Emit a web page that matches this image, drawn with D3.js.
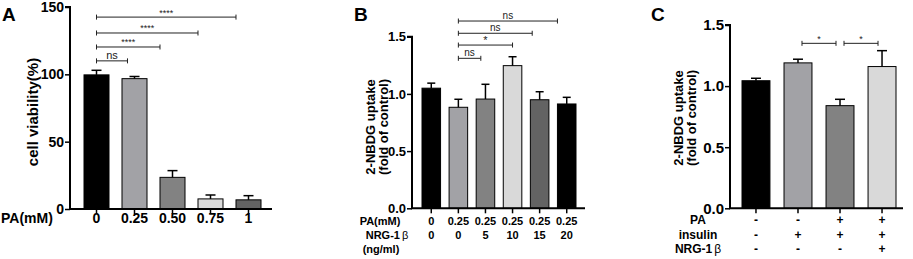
<!DOCTYPE html>
<html>
<head>
<meta charset="utf-8">
<script src="https://cdn.jsdelivr.net/npm/d3@7/dist/d3.min.js"></script>
<style>
  html, body { margin: 0; padding: 0; background: #fff; }
  svg { display: block; }
  text { font-family: "Liberation Sans", Arial, sans-serif; }
</style>
</head>
<body>
<svg id="chart" width="913" height="259"></svg>
<script>
// ---------- Panel A data ----------
const aCategories = ["0", "0.25", "0.50", "0.75", "1"];
const aMeans = [99.6, 96.8, 23.5, 7.5, 6.8];
const aErrors = [3.4, 1.6, 5.0, 2.9, 3.1];
const aColors = ["#000000", "#a2a2a6", "#828282", "#d9d9d9", "#636363"];
const aYTicks = [0, 50, 100, 150];
const aSig = [
  { from: "0", to: "0.25", y: 110, label: "ns" },
  { from: "0", to: "0.50", y: 120.3, label: "****" },
  { from: "0", to: "0.75", y: 130.7, label: "****" },
  { from: "0", to: "1", y: 142.5, label: "****" }
];

// ---------- Panel B data ----------
const bCategories = ["b1", "b2", "b3", "b4", "b5", "b6"];
const bPA = ["0", "0.25", "0.25", "0.25", "0.25", "0.25"];
const bNRG = ["0", "0", "5", "10", "15", "20"];
const bMeans = [1.05, 0.883, 0.955, 1.247, 0.949, 0.912];
const bErrors = [0.044, 0.07, 0.129, 0.078, 0.07, 0.058];
const bColors = ["#000000", "#a2a2a6", "#828282", "#d9d9d9", "#636363", "#000000"];
const bYTicks = [0, 0.5, 1.0, 1.5];
const bSig = [
  { from: "b2", to: "b3", y: 1.311, label: "ns" },
  { from: "b2", to: "b4", y: 1.427, label: "*" },
  { from: "b2", to: "b5", y: 1.53, label: "ns" },
  { from: "b2", to: "b6", y: 1.637, label: "ns" }
];

// ---------- Panel C data ----------
const cCategories = ["c1", "c2", "c3", "c4"];
const cPA = ["-", "-", "+", "+"];
const cInsulin = ["-", "+", "+", "+"];
const cNRG = ["-", "-", "-", "+"];
const cMeans = [1.044, 1.19, 0.84, 1.16];
const cErrors = [0.02, 0.03, 0.052, 0.13];
const cColors = ["#000000", "#a2a2a6", "#828282", "#d9d9d9"];
const cYTicks = [0, 0.5, 1.0, 1.5];
const cSig = [
  { from: "c2", to: "c3", y: 1.35, label: "*" },
  { from: "c3", to: "c4", y: 1.35, label: "*" }
];

const svg = d3.select("#chart");
const FONT = "\"Liberation Sans\", Arial, sans-serif";

function drawPanel(cfg) {
  const g = svg.append("g");
  const x = d3.scaleBand().domain(cfg.categories).range(cfg.xRange)
    .paddingInner(cfg.padInner).paddingOuter(0);
  const y = d3.scaleLinear().domain([0, cfg.yMax]).range(cfg.yRange);

  // bars
  g.selectAll("rect.bar").data(cfg.means).enter().append("rect")
    .attr("x", (d, i) => x(cfg.categories[i]))
    .attr("y", d => y(d))
    .attr("width", x.bandwidth())
    .attr("height", d => y(0) - y(d))
    .attr("fill", (d, i) => cfg.colors[i])
    .attr("stroke", "#000").attr("stroke-width", 1);

  // error bars (upper)
  cfg.means.forEach((m, i) => {
    const cx = x(cfg.categories[i]) + x.bandwidth() / 2;
    g.append("line").attr("x1", cx).attr("x2", cx)
      .attr("y1", y(m)).attr("y2", y(m + cfg.errors[i]))
      .attr("stroke", "#000").attr("stroke-width", 1.5);
    g.append("line").attr("x1", cx - cfg.cap).attr("x2", cx + cfg.cap)
      .attr("y1", y(m + cfg.errors[i])).attr("y2", y(m + cfg.errors[i]))
      .attr("stroke", "#000").attr("stroke-width", 1.5);
  });

  // y axis
  const yAxis = d3.axisLeft(y).tickValues(cfg.yTicks).tickSize(5).tickPadding(cfg.tickPad)
    .tickFormat(cfg.yFormat);
  const ya = g.append("g").attr("transform", `translate(${cfg.axisX},0)`).call(yAxis);
  ya.select(".domain").attr("stroke-width", 2).attr("d", `M-5,${y(cfg.yMax)}H0V${y(0)}`);
  ya.selectAll(".tick line").attr("stroke-width", 1.5);
  ya.selectAll(".tick text").attr("font-size", cfg.yTickSize).attr("font-weight", "bold")
    .attr("font-family", FONT).attr("fill", "#000");

  // x axis line
  g.append("line").attr("x1", cfg.axisX - 1).attr("x2", cfg.axisEnd)
    .attr("y1", y(0)).attr("y2", y(0)).attr("stroke", "#000").attr("stroke-width", 2);
  cfg.categories.forEach(c => {
    const cx = x(c) + x.bandwidth() / 2;
    g.append("line").attr("x1", cx).attr("x2", cx).attr("y1", y(0)).attr("y2", y(0) + 5)
      .attr("stroke", "#000").attr("stroke-width", 1.5);
  });

  // x label rows
  cfg.rows.forEach(row => {
    g.append("text").attr("x", row.labelX).attr("y", row.yPos)
      .attr("text-anchor", row.anchor || "middle")
      .attr("font-size", row.labelSize).attr("font-weight", "bold")
      .html(row.label);
    row.values.forEach((v, i) => {
      const cx = x(cfg.categories[i]) + x.bandwidth() / 2;
      g.append("text").attr("x", cx).attr("y", row.yPos)
        .attr("text-anchor", "middle").attr("font-size", row.size)
        .attr("font-weight", "bold").text(v);
    });
  });

  // y title
  cfg.titles.forEach(t => {
    g.append("text")
      .attr("transform", `translate(${t.x},${cfg.titleY}) rotate(-90)`)
      .attr("text-anchor", "middle").attr("font-size", cfg.titleSize)
      .attr("font-weight", "bold").text(t.text);
  });

  // panel letter
  g.append("text").attr("x", cfg.letterX).attr("y", 21).attr("font-size", 19)
    .attr("font-weight", "bold").text(cfg.letter);

  // significance brackets
  cfg.sig.forEach(s => {
    const x1 = cfg.sigX1(x, s), x2 = cfg.sigX2(x, s), yy = y(s.y);
    g.append("line").attr("x1", x1).attr("x2", x2).attr("y1", yy).attr("y2", yy)
      .attr("stroke", "#222").attr("stroke-width", 1);
    [x1, x2].forEach(xx => g.append("line").attr("x1", xx).attr("x2", xx)
      .attr("y1", yy - 2.5).attr("y2", yy + 2.5).attr("stroke", "#222").attr("stroke-width", 1));
    const isNs = s.label === "ns";
    g.append("text").attr("x", (x1 + x2) / 2).attr("y", yy - (isNs ? 2 : 1.5))
      .attr("text-anchor", "middle")
      .attr("font-size", isNs ? cfg.nsSize : cfg.starSize)
      .attr("fill", "#222").text(s.label);
  });
}

// Panel A
drawPanel({
  categories: aCategories, means: aMeans, errors: aErrors, colors: aColors,
  yTicks: aYTicks, yMax: 150, yFormat: d3.format("d"),
  xRange: [84, 261], padInner: 0.342, yRange: [209, 7],
  axisX: 70, axisEnd: 272, cap: 5, tickPad: 1, yTickSize: 14,
  rows: [{ label: "PA(mM)", labelX: 1, anchor: "start", yPos: 223, labelSize: 14,
           size: 14, values: aCategories }],
  titles: [{ x: 38, text: "cell viability(%)" }], titleY: 112, titleSize: 15,
  letter: "A", letterX: 2,
  sig: aSig, nsSize: 11, starSize: 9,
  sigX1: (x, s) => x(s.from) + x.bandwidth() / 2,
  sigX2: (x, s) => x(s.to) + (s.label === "ns" ? 0.22 * x.bandwidth() : 0)
});

// Panel B
const bEndFrac = { b3: 0.25, b4: 0.5, b5: 0.1, b6: 0 };
drawPanel({
  categories: bCategories, means: bMeans, errors: bErrors, colors: bColors,
  yTicks: bYTicks, yMax: 1.5, yFormat: d3.format(".1f"),
  xRange: [422, 576], padInner: 0.315, yRange: [208.3, 36.7],
  axisX: 412, axisEnd: 585, cap: 4, tickPad: 1, yTickSize: 13,
  rows: [
    { label: "PA(mM)", labelX: 380, yPos: 225, labelSize: 11, size: 11, values: bPA },
    { label: "NRG-1<tspan font-weight='normal' dx='2'>β</tspan>", labelX: 387, yPos: 239, labelSize: 11, size: 11, values: bNRG },
    { label: "(ng/ml)", labelX: 381, yPos: 253, labelSize: 11, size: 11, values: [] }
  ],
  titles: [{ x: 375, text: "2-NBDG uptake" }, { x: 388, text: "(fold of control)" }],
  titleY: 127, titleSize: 13,
  letter: "B", letterX: 354,
  sig: bSig, nsSize: 10, starSize: 11,
  sigX1: (x, s) => x(s.from) + x.bandwidth() / 2,
  sigX2: (x, s) => x(s.to) + bEndFrac[s.to] * x.bandwidth()
});

// Panel C
drawPanel({
  categories: cCategories, means: cMeans, errors: cErrors, colors: cColors,
  yTicks: cYTicks, yMax: 1.5, yFormat: d3.format(".1f"),
  xRange: [742, 896], padInner: 0.335, yRange: [208.3, 25],
  axisX: 730, axisEnd: 903, cap: 5, tickPad: 1, yTickSize: 15,
  rows: [
    { label: "PA", labelX: 698, yPos: 224, labelSize: 12, size: 12, values: cPA },
    { label: "insulin", labelX: 698, yPos: 239, labelSize: 12, size: 12, values: cInsulin },
    { label: "NRG-1<tspan font-weight='normal' dx='2'>β</tspan>", labelX: 698, yPos: 253, labelSize: 12, size: 12, values: cNRG }
  ],
  titles: [{ x: 683, text: "2-NBDG uptake" }, { x: 696, text: "(fold of control)" }],
  titleY: 118, titleSize: 13,
  letter: "C", letterX: 651,
  sig: cSig, nsSize: 10, starSize: 9,
  sigX1: (x, s) => x(s.from) + x.bandwidth() / 2 + 4,
  sigX2: (x, s) => x(s.to) + x.bandwidth() / 2 - 4
});
</script>
</body>
</html>
